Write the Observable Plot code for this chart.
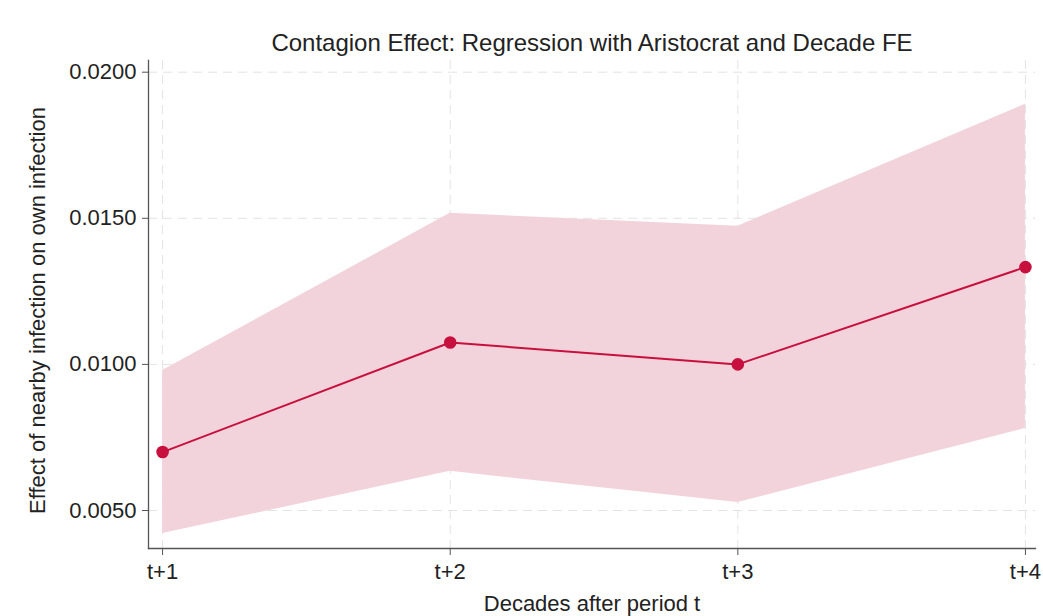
<!DOCTYPE html>
<html>
<head>
<meta charset="utf-8">
<script src="https://cdn.jsdelivr.net/npm/d3@7"></script>
<script src="https://cdn.jsdelivr.net/npm/@observablehq/plot@0.6"></script>
<style>
  html, body { margin: 0; padding: 0; background: #fff; }
  #chart svg { display: block; }
</style>
</head>
<body>
<div id="chart"></div>
<script>
const periods = ["t+1", "t+2", "t+3", "t+4"];
const estimate = [0.0070, 0.01075, 0.0100, 0.01333];
const ciLower = [0.00421, 0.00634, 0.00527, 0.00781];
const ciUpper = [0.00979, 0.01517, 0.01473, 0.0189];
const yTicks = [0.005, 0.010, 0.015, 0.020];
const title = "Contagion Effect: Regression with Aristocrat and Decade FE";
const xLabel = "Decades after period t";
const yLabel = "Effect of nearby infection on own infection";

const data = periods.map((p, i) => ({
  idx: i + 1, period: p, est: estimate[i], lo: ciLower[i], hi: ciUpper[i]
}));

const font = "'Liberation Sans', Arial, Helvetica, sans-serif";
const lineColor = "#c8103e";
const bandColor = "#f2d3dc";
const axisColor = "#555";

const chart = Plot.plot({
  width: 1043,
  height: 616,
  marginTop: 60,
  marginBottom: 68,
  marginLeft: 148,
  marginRight: 8,
  style: { fontFamily: font, fontSize: "22px", color: "#222", background: "#fff" },
  x: { type: "linear", domain: [0.951, 4.035] },
  y: { domain: [0.0037, 0.0204] },
  marks: [
    // grid
    Plot.ruleY(yTicks, { stroke: "#e3e3e3", strokeWidth: 1, strokeDasharray: "9,6" }),
    Plot.ruleX(periods.map((p, i) => i + 1), { stroke: "#e3e3e3", strokeWidth: 1, strokeDasharray: "9,6" }),
    // CI band
    Plot.areaY(data, { x: "idx", y1: "lo", y2: "hi", fill: bandColor, fillOpacity: 1 }),
    // line + points
    Plot.line(data, { x: "idx", y: "est", stroke: lineColor, strokeWidth: 2 }),
    Plot.dot(data, { x: "idx", y: "est", r: 6.3, fill: lineColor, stroke: "none" }),
    // axes
    Plot.axisY(yTicks, {
      tickFormat: d3.format(".4f"), tickSize: 6, tickPadding: 6, stroke: axisColor,
      fontSize: 22, fill: "#222", label: null
    }),
    Plot.axisX(periods.map((p, i) => i + 1), {
      tickFormat: d => periods[d - 1], tickSize: 7, tickPadding: 8, stroke: axisColor,
      fontSize: 22, fill: "#222", label: null
    }),
    Plot.frame({ anchor: "left", stroke: axisColor, strokeWidth: 1.3 }),
    Plot.frame({ anchor: "bottom", stroke: axisColor, strokeWidth: 1.3 }),
    // titles
    Plot.text([title], { frameAnchor: "top", lineAnchor: "middle", textAnchor: "middle", dy: -17, fontSize: 24, fill: "#222", text: d => d }),
    Plot.text([xLabel], { frameAnchor: "bottom", lineAnchor: "middle", textAnchor: "middle", dy: 55, fontSize: 22, fill: "#222", text: d => d }),
    Plot.text([yLabel], { frameAnchor: "left", lineAnchor: "middle", textAnchor: "middle", dx: -111, dy: 6, rotate: -90, fontSize: 22, fill: "#222", text: d => d })
  ]
});
document.getElementById("chart").appendChild(chart);
</script>
</body>
</html>
